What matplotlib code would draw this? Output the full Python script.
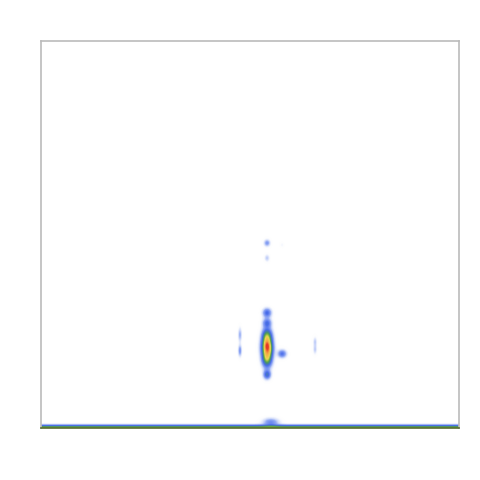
import numpy as np
import matplotlib
matplotlib.use("Agg")
import matplotlib.pyplot as plt
from matplotlib.colors import LinearSegmentedColormap

# Density blobs (data coordinates 0..1 in x and y)
blob_x   = [0.541, 0.541, 0.541, 0.541, 0.541, 0.541, 0.541, 0.577, 0.476, 0.476, 0.656, 0.656, 0.541, 0.541, 0.577, 0.550, 0.545]
blob_y   = [0.232, 0.207, 0.181, 0.212, 0.297, 0.271, 0.137, 0.191, 0.240, 0.199, 0.222, 0.202, 0.478, 0.439, 0.473, 0.014, 0.202]
blob_sx  = [0.008, 0.009, 0.008, 0.004, 0.007, 0.007, 0.006, 0.007, 0.003, 0.003, 0.003, 0.003, 0.005, 0.004, 0.003, 0.013, 0.006]
blob_sy  = [0.016, 0.014, 0.016, 0.007, 0.008, 0.008, 0.008, 0.007, 0.012, 0.010, 0.008, 0.008, 0.006, 0.006, 0.004, 0.007, 0.010]
blob_amp = [0.58, 0.50, 0.58, 0.18, 0.26, 0.24, 0.30, 0.24, 0.12, 0.16, 0.09, 0.09, 0.16, 0.09, 0.03, 0.18, 0.12]

# Dense strip along the bottom edge
strip_amp = 0.50
strip_sy = 0.0045

nx, ny = 420, 390
xs = np.linspace(0, 1, nx)
ys = np.linspace(0, 1, ny)
X, Y = np.meshgrid(xs, ys)
Z = np.zeros_like(X)
for bx, by, sx, sy, a in zip(blob_x, blob_y, blob_sx, blob_sy, blob_amp):
    Z += a * np.exp(-0.5 * (((X - bx) / sx) ** 2 + ((Y - by) / sy) ** 2))
Z += strip_amp * np.exp(-0.5 * (Y / strip_sy) ** 2)
Z = np.clip(Z, 0, 1)

cmap = LinearSegmentedColormap.from_list(
    "dens",
    [(0.0, (1, 1, 1, 0)),
     (0.04, (0.82, 0.86, 0.98, 0.5)),
     (0.12, (0.58, 0.67, 0.96, 1)),
     (0.25, (0.28, 0.42, 0.92, 1)),
     (0.40, (0.27, 0.55, 0.45, 1)),
     (0.48, (0.40, 0.68, 0.25, 1)),
     (0.62, (0.93, 0.85, 0.32, 1)),
     (0.82, (0.96, 0.65, 0.28, 1)),
     (1.0, (0.90, 0.22, 0.15, 1))])

fig = plt.figure(figsize=(4.8, 4.8), dpi=100)
ax = fig.add_axes([41 / 480, 52 / 480, 418 / 480, 387 / 480])
ax.imshow(Z, origin="lower", extent=[0, 1, 0, 1], cmap=cmap, vmin=0, vmax=1,
          aspect="auto", interpolation="bilinear")
ax.set_xlim(0, 1)
ax.set_ylim(0, 1)
ax.set_xticks([])
ax.set_yticks([])
for s in ax.spines.values():
    s.set_color("#bbbbbb")
    s.set_linewidth(1.2)
ax.spines["bottom"].set_color("#556b2f")
fig.savefig("out.png", dpi=100)
